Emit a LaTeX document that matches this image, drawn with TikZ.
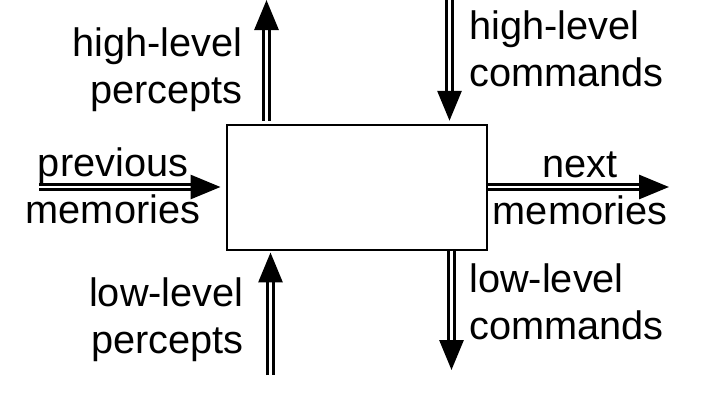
\documentclass[tikz,border=0pt]{standalone}
\usepackage{fontspec}
\setmainfont{Liberation Sans}
\usetikzlibrary{arrows.meta}

\begin{document}
\begin{tikzpicture}[
  lbl/.style={font=\fontsize{22.6}{26.2}\selectfont, inner sep=0pt},
  memline/.style={double, double distance=1.4pt, line width=1.7pt,
    -{Triangle[length=0.6cm,width=0.48cm]}}
]
\useasboundingbox (0,0) rectangle (14.12,8.04);

\node[draw, line width=1.1pt, minimum width=5.21cm, minimum height=2.49cm, inner sep=0pt] (core) at (7.14,4.29) {};

% free ends of the arrows
\coordinate (hpout) at (5.33,8.04);
\coordinate (hcin) at (8.99,8.04);
\coordinate (lpin) at (5.41,0.54);
\coordinate (lcout) at (9.03,0.64);
\coordinate (pmin) at (0.78,4.30);
\coordinate (nmout) at (13.38,4.30);

% arrows
\draw[memline, shorten <=2pt] (core.north -| hpout) -- (hpout);
\draw[memline, shorten >=2pt] (hcin) -- (core.north -| hcin);
\draw[memline, shorten >=1pt] (lpin) -- (core.south -| lpin);
\draw[memline] (core.south -| lcout) -- (lcout);
\draw[memline, shorten >=3pt] (pmin) -- (core.west |- pmin);
\draw[memline] (core.east |- nmout) -- (nmout);

% labels
\node[lbl, anchor=base east, align=right] (hp) at (4.86,5.98) {high-level\\percepts};
\node[lbl, anchor=base west, align=left] (hc) at (9.38,6.32) {high-level\\commands};
\node[lbl, anchor=base east, align=right] (lp) at (4.88,0.98) {low-level\\percepts};
\node[lbl, anchor=base west, align=left] (lc) at (9.38,1.26) {low-level\\commands};
\node[lbl, anchor=base, align=center] (pm) at (2.26,3.58) {previous\\memories};
\node[lbl, anchor=base, align=center] (nm) at (11.6,3.56) {next\\memories};
\end{tikzpicture}
\end{document}
